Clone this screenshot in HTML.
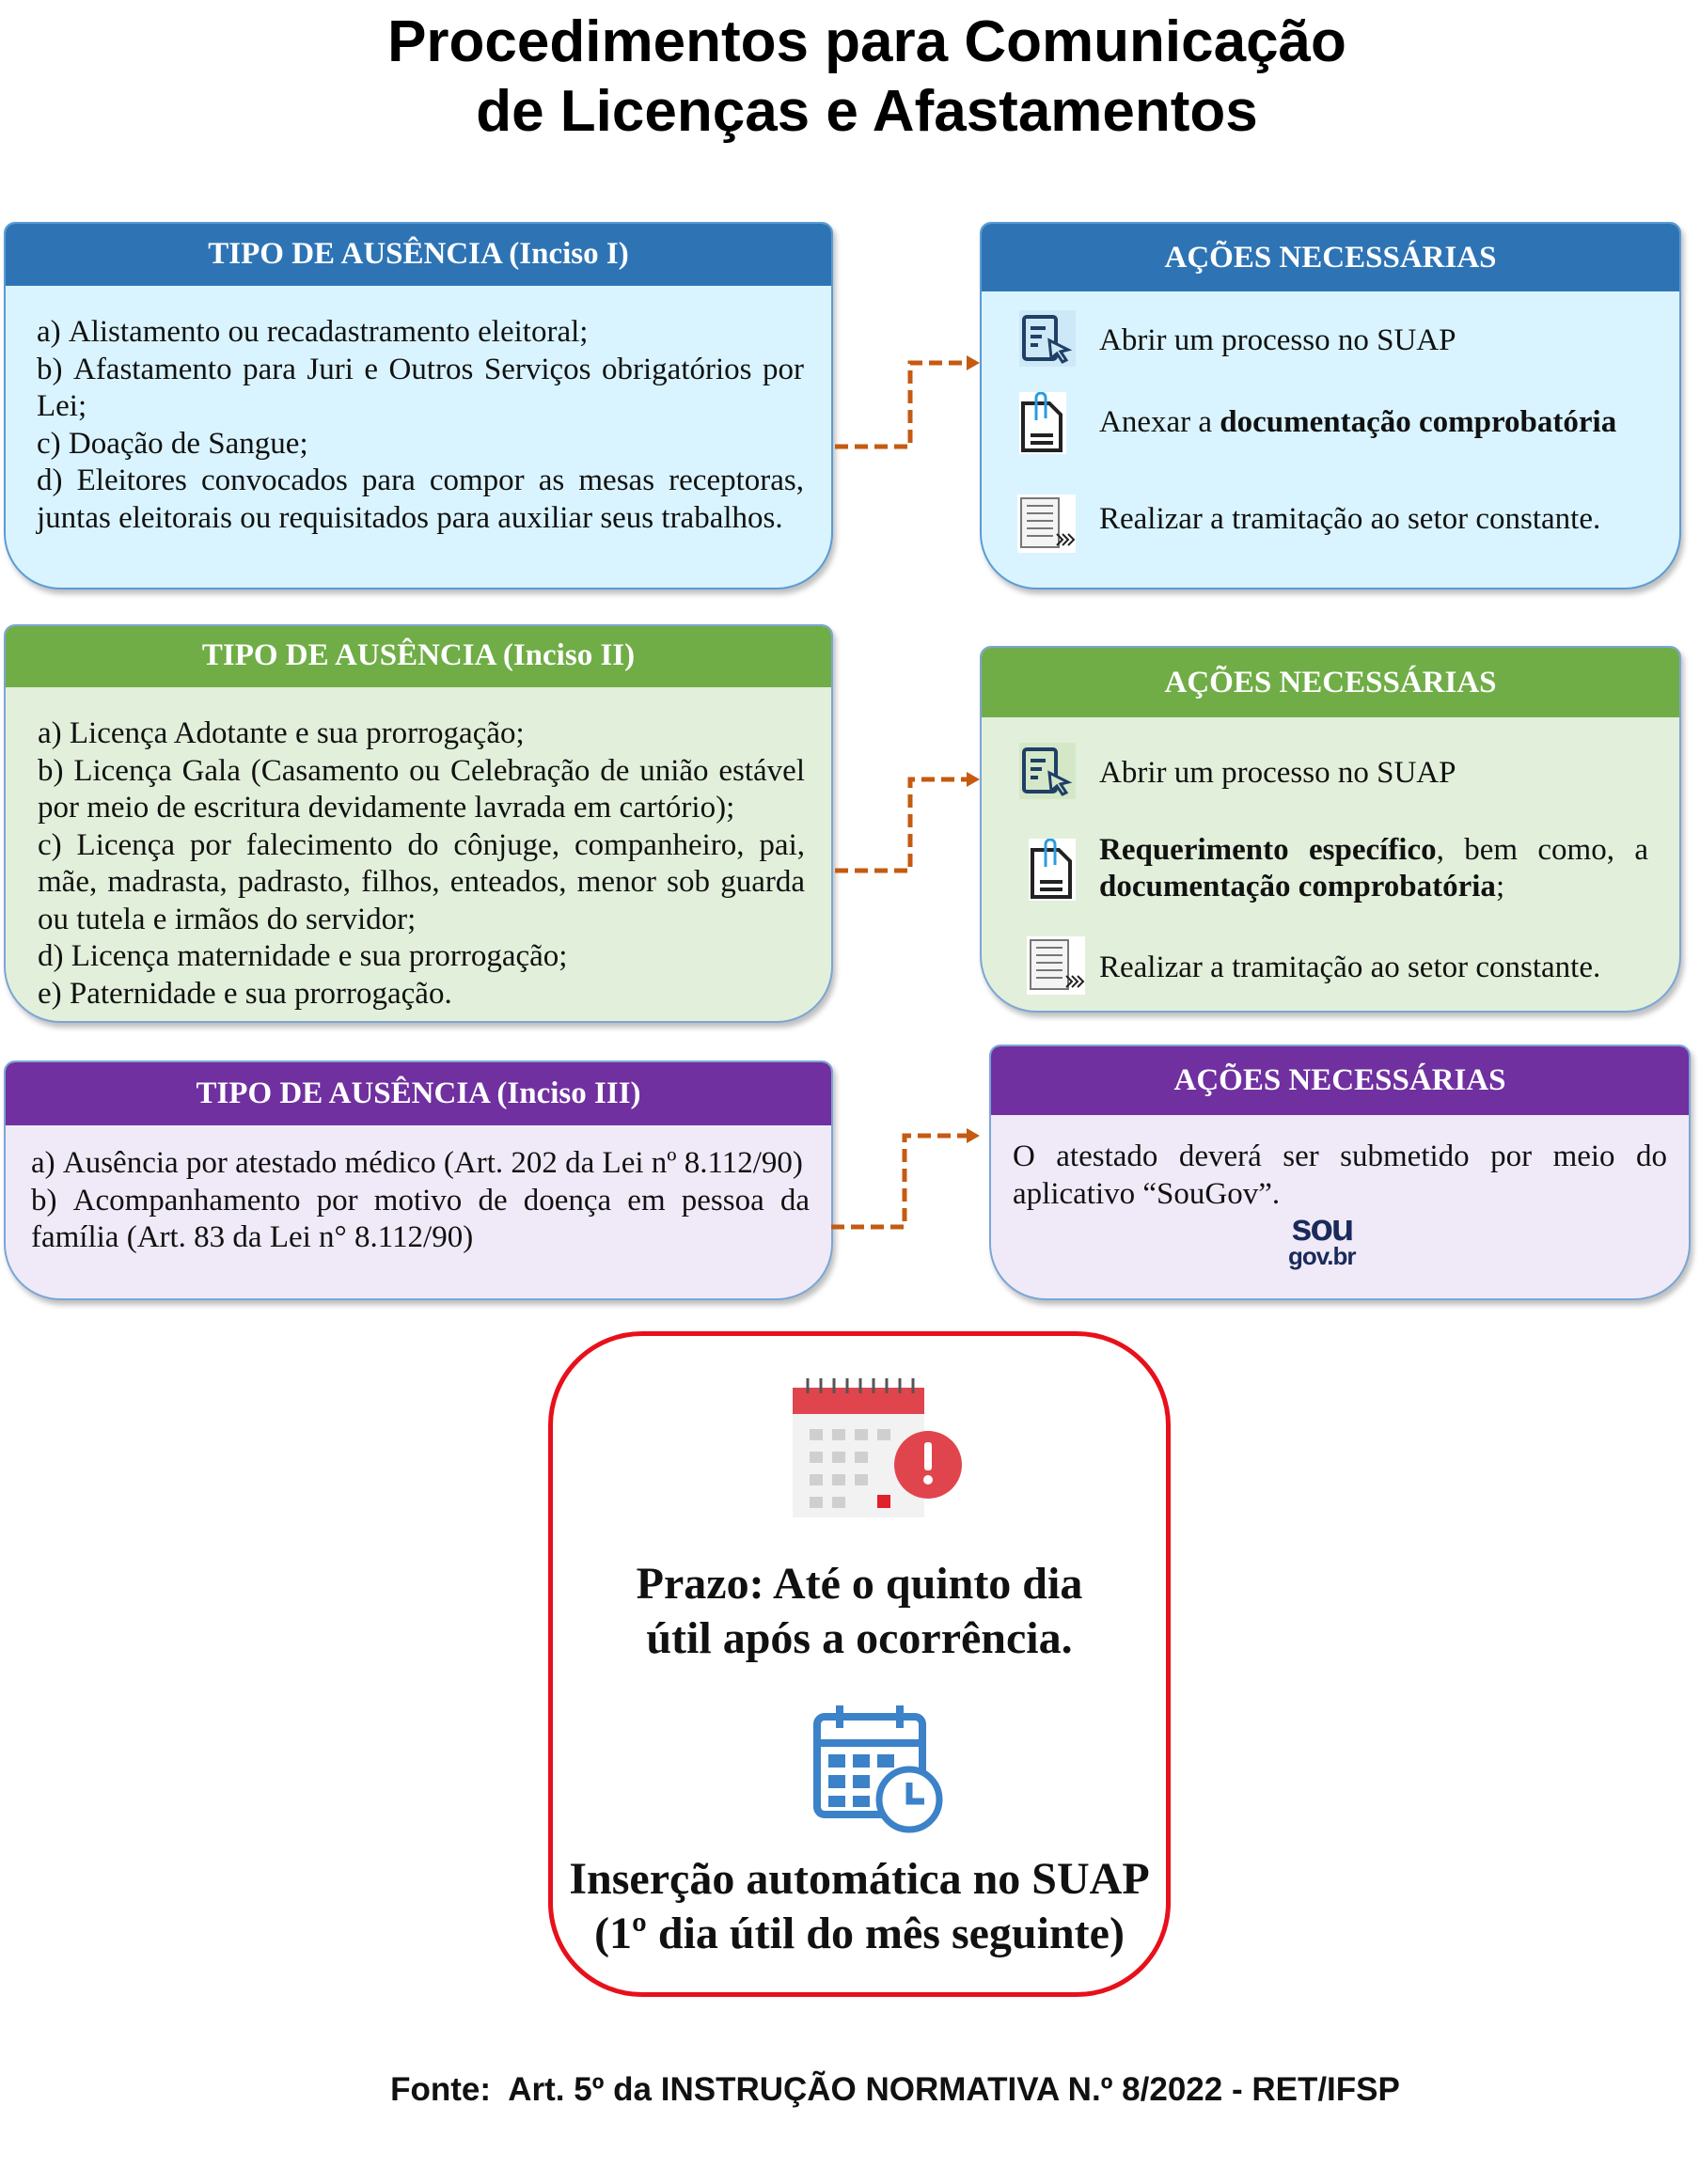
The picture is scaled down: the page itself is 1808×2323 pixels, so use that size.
<!DOCTYPE html>
<html><head><meta charset="utf-8"><style>
*{margin:0;padding:0;box-sizing:border-box}
body{width:1808px;height:2323px;background:#fff;position:relative;overflow:hidden;font-family:"Liberation Serif",serif;color:#111}
.title{position:absolute;left:0;width:1844px;text-align:center;font-family:"Liberation Sans",sans-serif;font-weight:bold;font-size:62px;line-height:74px;top:8px;color:#000}
.box{position:absolute;border-radius:12px 12px 60px 60px;box-shadow:3px 5px 6px rgba(0,0,0,.25);overflow:hidden}
.hd{position:absolute;left:0;right:0;top:0;color:#fff;font-weight:bold;font-size:33px;text-align:center}
.txt{position:absolute;font-size:33px;line-height:39.5px;text-align:justify}
.blue{background:#d9f4fe;border:2px solid #5b9bd5}.blue .hd{background:#2e74b5}
.green{background:#e2efda;border:2px solid #7aa6d6}.green .hd{background:#70ad47}
.purple{background:#f0eaf8;border:2px solid #7aa6d6}.purple .hd{background:#7030a0}
.it{position:absolute;font-size:33px;line-height:39px}
.ic{position:absolute}
</style></head><body>
<div class="title">Procedimentos para Comunicação<br>de Licenças e Afastamentos</div>

<div class="box blue" style="left:4px;top:236px;width:882px;height:391px">
<div class="hd" style="height:66px;line-height:64px">TIPO DE AUSÊNCIA (Inciso I)</div>
<div class="txt" style="left:33px;top:96px;width:816px">a)&nbsp;Alistamento ou recadastramento eleitoral;<br>b)&nbsp;Afastamento para Juri e Outros Serviços obrigatórios por Lei;<br>c)&nbsp;Doação de Sangue;<br>d)&nbsp;Eleitores convocados para compor as mesas receptoras, juntas eleitorais ou requisitados para auxiliar seus trabalhos.</div>
</div>

<div class="box blue" style="left:1042px;top:236px;width:746px;height:391px">
<div class="hd" style="height:72px;line-height:72px">AÇÕES NECESSÁRIAS</div>
</div>

<div class="box green" style="left:4px;top:664px;width:882px;height:424px">
<div class="hd" style="height:65px;line-height:63px">TIPO DE AUSÊNCIA (Inciso II)</div>
<div class="txt" style="left:34px;top:95px;width:816px">a)&nbsp;Licença Adotante e sua prorrogação;<br>b)&nbsp;Licença Gala (Casamento ou Celebração de união estável por meio de escritura devidamente lavrada em cartório);<br>c)&nbsp;Licença por falecimento do cônjuge, companheiro, pai, mãe, madrasta, padrasto, filhos, enteados, menor sob guarda ou tutela e irmãos do servidor;<br>d)&nbsp;Licença maternidade e sua prorrogação;<br>e)&nbsp;Paternidade e sua prorrogação.</div>
</div>

<div class="box green" style="left:1042px;top:687px;width:746px;height:390px">
<div class="hd" style="height:74px;line-height:74px">AÇÕES NECESSÁRIAS</div>
</div>

<div class="box purple" style="left:4px;top:1128px;width:882px;height:255px">
<div class="hd" style="height:67px;line-height:67px">TIPO DE AUSÊNCIA (Inciso III)</div>
<div class="txt" style="left:27px;top:88px;width:828px">a)&nbsp;Ausência por atestado médico (Art. 202 da Lei nº 8.112/90)<br>b)&nbsp;Acompanhamento por motivo de doença em pessoa da família (Art. 83 da Lei n° 8.112/90)</div>
</div>

<div class="box purple" style="left:1052px;top:1111px;width:746px;height:272px">
<div class="hd" style="height:73px;line-height:73px">AÇÕES NECESSÁRIAS</div>
<div class="txt" style="left:23px;top:98px;width:696px">O atestado deverá ser submetido por meio do aplicativo “SouGov”.</div>
<div style="position:absolute;left:316px;top:178px;font-family:'Liberation Sans',sans-serif;font-weight:bold;color:#1a2a5a;line-height:30px;text-align:center">
<div style="font-size:40px;letter-spacing:-2px">sou</div><div style="font-size:26px;letter-spacing:-1px">gov.br</div></div>
</div>

<div class="ic" style="left:1084px;top:330px;width:60px;height:60px;background:#cde8f6"></div>
<svg class="ic" style="left:1084px;top:330px" width="62" height="62" viewBox="0 0 62 62"><rect x="5" y="7" width="34" height="45" rx="3" fill="none" stroke="#1f3f66" stroke-width="4"/><path d="M12 19h16M12 28h12M12 37h8" stroke="#1f3f66" stroke-width="4"/><path d="M32 32l20 10-8 2 6 9-4 2-6-9-6 5z" fill="#cde8f6" stroke="#1f3f66" stroke-width="3"/></svg>
<div class="it" style="left:1169px;top:343px">Abrir um processo no SUAP</div>
<svg class="ic" style="left:1084px;top:417px" width="50" height="66" viewBox="0 0 50 66"><rect width="50" height="66" fill="#fff"/><path d="M4 12h28l12 12v38H4z" fill="none" stroke="#222" stroke-width="4"/><path d="M12 46h24M12 54h24" stroke="#222" stroke-width="4"/><path d="M18 30V6a5 5 0 0 1 10 0v22" fill="none" stroke="#2b9be0" stroke-width="3"/></svg>
<div class="it" style="left:1169px;top:430px">Anexar a <b>documentação comprobatória</b></div>
<svg class="ic" style="left:1082px;top:526px" width="62" height="62" viewBox="0 0 62 62"><rect width="62" height="62" fill="#fff"/><rect x="4" y="4" width="40" height="52" fill="#f4f4f4" stroke="#777" stroke-width="2"/><path d="M10 12h28M10 20h28M10 28h28M10 36h28M10 44h28" stroke="#777" stroke-width="2"/><path d="M42 42l6 6-6 6M48 42l6 6-6 6M54 42l6 6-6 6" fill="none" stroke="#222" stroke-width="2"/></svg>
<div class="it" style="left:1169px;top:533px">Realizar a tramitação ao setor constante.</div>

<div class="ic" style="left:1084px;top:790px;width:60px;height:60px;background:#d4e8c8"></div>
<svg class="ic" style="left:1084px;top:790px" width="62" height="62" viewBox="0 0 62 62"><rect x="5" y="7" width="34" height="45" rx="3" fill="none" stroke="#1f3f66" stroke-width="4"/><path d="M12 19h16M12 28h12M12 37h8" stroke="#1f3f66" stroke-width="4"/><path d="M32 32l20 10-8 2 6 9-4 2-6-9-6 5z" fill="#d4e8c8" stroke="#1f3f66" stroke-width="3"/></svg>
<div class="it" style="left:1169px;top:803px">Abrir um processo no SUAP</div>
<svg class="ic" style="left:1094px;top:892px" width="50" height="66" viewBox="0 0 50 66"><rect width="50" height="66" fill="#fff"/><path d="M4 12h28l12 12v38H4z" fill="none" stroke="#222" stroke-width="4"/><path d="M12 46h24M12 54h24" stroke="#222" stroke-width="4"/><path d="M18 30V6a5 5 0 0 1 10 0v22" fill="none" stroke="#2b9be0" stroke-width="3"/></svg>
<div class="it" style="left:1169px;top:885px;width:584px;text-align:justify"><b>Requerimento específico</b>, bem como, a <b>documentação comprobatória</b>;</div>
<svg class="ic" style="left:1092px;top:996px" width="62" height="62" viewBox="0 0 62 62"><rect width="62" height="62" fill="#fff"/><rect x="4" y="4" width="40" height="52" fill="#f4f4f4" stroke="#777" stroke-width="2"/><path d="M10 12h28M10 20h28M10 28h28M10 36h28M10 44h28" stroke="#777" stroke-width="2"/><path d="M42 42l6 6-6 6M48 42l6 6-6 6M54 42l6 6-6 6" fill="none" stroke="#222" stroke-width="2"/></svg>
<div class="it" style="left:1169px;top:1010px">Realizar a tramitação ao setor constante.</div>

<svg class="ic" style="left:0;top:0" width="1808" height="1400">
<g fill="none" stroke="#c55a11" stroke-width="5" stroke-dasharray="14 7">
<path d="M888 475H968V386H1030"/><path d="M888 926H968V829H1030"/><path d="M884 1305H962V1208H1030"/></g>
<g fill="#c55a11"><path d="M1028 378l14 8-14 8z"/><path d="M1028 821l14 8-14 8z"/><path d="M1028 1200l14 8-14 8z"/></g>
</svg>

<div style="position:absolute;left:583px;top:1416px;width:662px;height:708px;border:5px solid #e8101a;border-radius:100px"></div>
<svg class="ic" style="left:843px;top:1462px" width="182" height="156" viewBox="0 0 182 156">
<rect x="0" y="14" width="140" height="138" fill="#f2f2f2"/><rect x="0" y="14" width="140" height="28" fill="#e0454e"/>
<g stroke="#555" stroke-width="3"><path d="M16 4v16M30 4v16M44 4v16M58 4v16M72 4v16M86 4v16M100 4v16M114 4v16M128 4v16"/></g>
<g fill="#cfcfcf"><rect x="18" y="58" width="14" height="12"/><rect x="42" y="58" width="14" height="12"/><rect x="66" y="58" width="14" height="12"/><rect x="90" y="58" width="14" height="12"/><rect x="18" y="82" width="14" height="12"/><rect x="42" y="82" width="14" height="12"/><rect x="66" y="82" width="14" height="12"/><rect x="18" y="106" width="14" height="12"/><rect x="42" y="106" width="14" height="12"/><rect x="66" y="106" width="14" height="12"/><rect x="18" y="130" width="14" height="12"/><rect x="42" y="130" width="14" height="12"/></g>
<rect x="90" y="128" width="14" height="14" fill="#e0202a"/>
<circle cx="144" cy="96" r="36" fill="#e0454e"/><rect x="140" y="72" width="8" height="30" rx="3" fill="#fff"/><circle cx="144" cy="112" r="5" fill="#fff"/></svg>
<div style="position:absolute;left:556px;width:716px;top:1656px;text-align:center;font-weight:bold;font-size:48px;line-height:58px">Prazo: Até o quinto dia<br>útil após a ocorrência.</div>
<svg class="ic" style="left:863px;top:1810px" width="144" height="142" viewBox="0 0 144 142">
<g fill="none" stroke="#3b82c8" stroke-width="8"><rect x="6" y="16" width="112" height="104" rx="8"/><path d="M6 44h112"/><path d="M30 4v24M94 4v24"/></g>
<g fill="#3b82c8"><rect x="18" y="56" width="18" height="14"/><rect x="44" y="56" width="18" height="14"/><rect x="70" y="56" width="18" height="14"/><rect x="18" y="78" width="18" height="14"/><rect x="44" y="78" width="18" height="14"/><rect x="18" y="100" width="18" height="12"/><rect x="44" y="100" width="18" height="12"/></g>
<circle cx="104" cy="104" r="32" fill="#fff" stroke="#3b82c8" stroke-width="7"/><path d="M104 86v20h16" fill="none" stroke="#3b82c8" stroke-width="7"/></svg>
<div style="position:absolute;left:536px;width:756px;top:1970px;text-align:center;font-weight:bold;font-size:48px;line-height:58px">Inserção automática no SUAP<br>(1º dia útil do mês seguinte)</div>

<div style="position:absolute;left:0;width:1904px;top:2203px;text-align:center;font-family:'Liberation Sans',sans-serif;font-weight:bold;font-size:35px">Fonte:&nbsp; Art. 5º da INSTRUÇÃO NORMATIVA N.º 8/2022 - RET/IFSP</div>
</body></html>
